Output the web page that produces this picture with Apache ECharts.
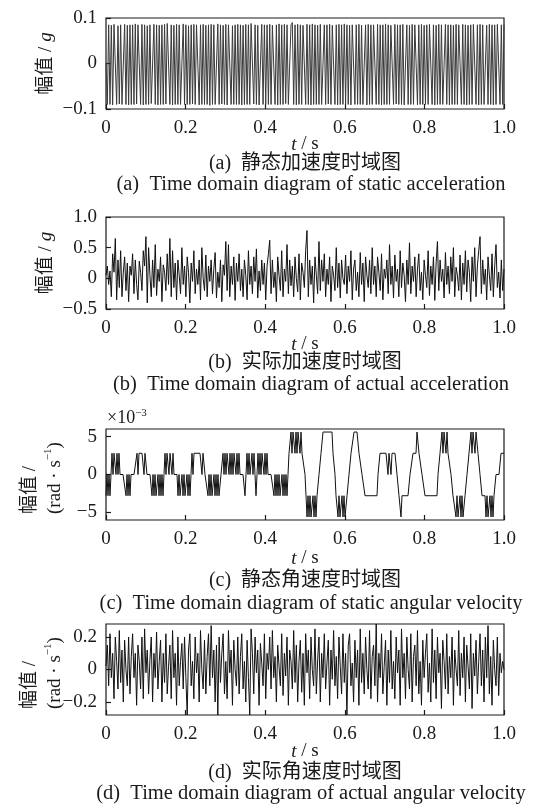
<!DOCTYPE html>
<html>
<head>
<meta charset="utf-8">
<script src="https://cdn.jsdelivr.net/npm/echarts@6/dist/echarts.min.js"></script>
<style>
  html, body { margin: 0; padding: 0; background: #fff; }
  #chart { width: 548px; height: 807px; }
</style>
</head>
<body>
<div id="chart"></div>
<script>
// (a) static acceleration, g
const accelStatic = [
  0,-0.09,0.085,-0.09,0.084,-0.091,0.086,0.085,-0.09,0.083,-0.089,0.085,-0.09,-0.09,0.086,-0.09,0.084,-0.091,0.085,-0.09,
  0.085,-0.09,0.087,-0.089,0.085,0.084,-0.09,0.086,-0.091,0.085,-0.09,0.083,-0.09,0.085,-0.088,-0.09,0.086,-0.09,0.085,-0.091,
  0.084,-0.09,0.085,-0.09,0.086,-0.089,0.088,0.085,-0.09,0.085,-0.091,0.084,-0.09,0.086,-0.09,0.085,-0.09,-0.091,0.087,-0.09,
  0.085,-0.09,0.083,-0.09,0.085,-0.089,0.086,-0.09,0.085,0.084,-0.091,0.085,-0.09,0.086,-0.09,0.084,-0.09,0.085,-0.092,0.086,
  -0.09,0.085,-0.09,-0.09,0.087,-0.09,0.085,-0.089,0.084,-0.09,0.086,-0.091,0.085,0.085,-0.09,0.083,-0.09,0.085,-0.09,0.086,
  -0.09,0.085,-0.091,0.084,-0.09,0.086,-0.09,0.085,-0.09,0.088,0.085,-0.089,0.085,-0.09,0.084,-0.091,-0.09,0.086,-0.09,0.085,
  -0.09,0.085,-0.09,0.086,-0.09,0.084,0.085,-0.09,0.085,-0.091,0.087,-0.09,0.085,-0.09,0.086,-0.088,0.085,-0.09,-0.09,0.085,
  0.09,-0.09,0.085,-0.091,0.086,-0.09,0.085,-0.09,0.084,0.085,-0.09,0.086,-0.09,0.085,-0.091,0.087,-0.09,0.085,-0.09,0.084,
  -0.09,0.086,-0.09,-0.091,0.085,-0.09,0.085,-0.089,0.086,-0.09,0.084,0.085,-0.09,0.085,-0.091,0.086,-0.09,0.085,-0.09,0.087,
  -0.09,0.085,-0.09,0.084,-0.091,0.085,0.086,-0.09,0.085,-0.09,0.086,-0.09,0.084,-0.09,-0.09,0.085,-0.091,0.086,-0.09,0.085,
  -0.09,0.085,0.084,-0.09,0.086,-0.09,0.085,-0.091,0.085,-0.09,0.087,-0.09,0.085,-0.09,0.084,0.085,-0.09,0.086,-0.089,0.085,
  -0.09,0.085,-0.09,0.086,-0.091,-0.09,0.085,-0.09,0.084,-0.09,0.086,-0.09,0.085,0.085,-0.091,0.085,-0.09,0.086,-0.09,0.084,
  -0.09,0.085,-0.09,0.086,0.085,-0.09,0.085,-0.091,0.084,-0.09,0.086,-0.09,0.085,-0.09,-0.09,0.086,-0.09,0.085,-0.091,0.085,
  -0.09,0.084,-0.09,0.086,-0.09,0.085,0.085,-0.09,0.086,-0.09,0.085,-0.091,0.084,-0.09,0.085,-0.09,0.086,0.085,-0.09,0.085,
  -0.091,0.086,-0.09,0.085,-0.09,-0.09,0.084,-0.09,0.086,-0.09,0.085,-0.091,0.085,-0.09,0.086,0.084,-0.09,0.085,-0.09,0.085
];

// (b) actual acceleration, g
const accelActual = [
  0.05,0.2,-0.1,0.12,-0.3,0.4,0.1,0.65,-0.35,0.3,-0.15,0.45,-0.3,0.1,0.35,-0.2,0.25,-0.38,0.2,0.05,
  0.4,-0.25,0.3,-0.1,-0.35,0.28,0.1,-0.2,0.45,0.2,0.68,-0.4,0.5,0.05,-0.3,0.3,-0.15,0.55,-0.28,0.15,
  -0.05,0.35,-0.38,0.22,0.1,-0.2,0.4,-0.1,0.65,-0.3,0.45,-0.15,0.25,-0.35,0.3,0.05,-0.25,0.5,-0.1,0.2,
  -0.3,0.35,0.1,-0.4,0.25,-0.05,0.45,-0.25,0.15,-0.1,0.3,-0.35,0.5,0.0,-0.2,0.38,-0.3,0.2,-0.05,0.3,
  -0.25,0.15,0.42,-0.32,0.1,-0.15,0.3,-0.38,0.22,0.05,0.6,-0.2,0.55,-0.3,0.2,-0.1,0.35,-0.36,0.25,-0.05,
  0.4,-0.2,0.15,-0.3,0.3,0.05,-0.35,0.45,-0.1,0.2,-0.25,0.35,-0.05,0.48,-0.32,0.12,-0.2,0.3,-0.1,0.25,
  -0.35,0.2,0.4,0.62,-0.25,0.3,-0.15,0.1,-0.38,0.35,0.05,-0.2,0.45,-0.3,0.15,-0.05,0.55,-0.25,0.3,-0.12,
  0.2,-0.3,0.35,0.0,-0.22,0.4,-0.35,0.25,0.1,-0.15,0.45,0.78,-0.3,0.3,-0.1,0.2,-0.4,0.35,0.05,-0.25,
  0.6,-0.2,0.3,-0.05,0.4,-0.3,0.15,-0.1,0.35,-0.38,0.2,0.05,-0.2,0.5,-0.15,0.25,-0.32,0.3,0.0,-0.1,
  0.38,-0.25,0.2,-0.05,0.45,-0.35,0.15,0.3,-0.2,0.1,-0.3,0.42,-0.1,0.25,-0.38,0.35,0.05,-0.15,0.3,-0.25,
  0.5,-0.1,0.2,-0.3,0.35,0.1,-0.2,0.4,-0.35,0.15,0.0,0.3,-0.25,0.55,-0.1,0.2,-0.32,0.38,-0.05,0.15,
  -0.3,0.45,-0.15,0.25,0.05,-0.38,0.3,-0.1,0.58,-0.25,0.2,-0.05,0.35,-0.3,0.15,0.4,-0.2,0.1,-0.35,0.3,
  0.05,-0.15,0.45,-0.28,0.2,-0.1,0.35,-0.36,0.25,0.6,-0.2,0.3,-0.05,0.15,-0.32,0.42,-0.1,0.2,-0.25,0.35,
  -0.05,0.5,-0.3,0.18,0.05,-0.2,0.38,-0.35,0.25,-0.1,0.45,-0.22,0.3,0.1,-0.38,0.35,-0.05,0.5,-0.3,0.2,
  0.45,0.68,-0.25,0.3,-0.1,0.15,-0.35,0.35,0.05,-0.2,0.4,-0.3,0.2,0.55,-0.15,0.1,-0.32,0.3,-0.2,0.15
];

// (c) static angular velocity, 1e-3 rad/s (quantised steps)
const gyroStatic = [
  -2.8,0,-2.8,0,-2.8,0,
  2.8,0,2.8,2.8,0,2.8,0,2.8,
  0,0,0,0,0,0,
  -2.8,0,
  -2.8,0,-2.8,0,0,0,
  0,0,0,
  2.8,0,2.8,2.8,2.8,2.8,2.8,0,2.8,2.8,0,0,
  0,0,0,
  -2.8,0,-2.8,0,-2.8,-2.8,0,-2.8,0,-2.8,0,-2.8,
  0,
  2.8,0,2.8,2.8,0,2.8,2.8,0,2.8,
  0,0,0,0,
  -2.8,0,-2.8,-2.8,0,-2.8,0,-2.8,-2.8,0,-2.8,0,-2.8,
  0,
  2.8,0,2.8,2.8,2.8,2.8,2.8,2.8,2.8,2.8,0,2.8,2.8,
  0,0,0,
  -2.8,0,-2.8,0,-2.8,-2.8,0,-2.8,0,-2.8,0,-2.8,-2.8,0,
  0,
  2.8,0,2.8,0,2.8,2.8,0,2.8,0,2.8,0,2.8,2.8,0,2.8,0,2.8,
  0,0,0,0,0,
  -2.8,0,
  2.8,0,2.8,0,0,2.8,0,2.8,
  0,
  -2.8,0,
  2.8,0,2.8,0,2.8,2.8,0,2.8,0,2.8,
  0,0,0,0,0,0,
  -2.8,0,-2.8,0,-2.8,0,-2.8,-2.8,0,-2.8,0,-2.8,0,-2.8,
  0,
  2.8,
  2.8,5.6,2.8,5.6,5.6,2.8,5.6,2.8,5.6,5.6,2.8,5.6,
  2.8,2.8,2.8,
  0,
  -2.8,
  -5.6,-2.8,-5.6,-2.8,-5.6,-5.6,-2.8,-5.6,-2.8,-5.6,
  -2.8,-2.8,0,0,2.8,2.8,
  5.6,5.6,5.6,5.6,5.6,5.6,5.6,5.6,5.6,5.6,
  2.8,2.8,0,-2.8,-2.8,
  -5.6,-2.8,-5.6,-5.6,-2.8,-5.6,-2.8,-5.6,-5.6,
  -2.8,-2.8,0,0,2.8,2.8,2.8,
  5.6,5.6,5.6,5.6,5.6,
  2.8,2.8,2.8,0,0,0,
  -2.8,-2.8,-2.8,-2.8,-2.8,-2.8,-2.8,-2.8,-2.8,-2.8,-2.8,-2.8,-2.8,
  0,0,
  2.8,2.8,2.8,2.8,2.8,2.8,2.8,2.8,0,2.8,2.8,0,2.8,2.8,2.8,2.8,2.8,
  0,0,
  -2.8,-2.8,-5.6,-2.8,-2.8,-2.8,-2.8,-2.8,-2.8,-2.8,-2.8,
  0,0,0,
  2.8,2.8,2.8,2.8,
  5.6,5.6,
  2.8,2.8,2.8,0,0,0,
  -2.8,-2.8,-2.8,-2.8,-2.8,-2.8,-2.8,-2.8,-2.8,-2.8,-2.8,-2.8,-2.8,
  0,0,2.8,2.8,
  5.6,2.8,5.6,5.6,2.8,5.6,2.8,2.8,
  2.8,0,0,
  -2.8,-2.8,-2.8,
  -5.6,-2.8,-5.6,-5.6,-2.8,-5.6,-2.8,-5.6,-5.6,
  -2.8,-2.8,0,0,2.8,2.8,
  5.6,2.8,5.6,5.6,2.8,5.6,5.6,2.8,
  2.8,0,0,-2.8,-2.8,
  -2.8,-2.8,
  -5.6,-2.8,-5.6,-5.6,-2.8,-5.6,-2.8,-5.6,
  -2.8,-2.8,0,0,0,0,0,2.8,2.8,2.8,2.8
];

// (d) actual angular velocity, rad/s
const gyroActual = [
  0.02,0.15,-0.1,0.22,-0.05,0.1,-0.18,0.2,0.05,-0.12,0.24,-0.08,0.12,-0.2,0.18,0.0,-0.1,0.2,-0.15,0.08,
  0.22,-0.05,0.1,-0.22,0.15,0.05,-0.12,0.2,-0.18,0.25,-0.02,0.12,-0.15,0.06,0.2,-0.2,0.1,-0.05,0.23,-0.12,
  0.05,0.18,-0.2,0.1,-0.08,0.22,-0.15,0.02,0.15,-0.18,0.24,-0.05,0.1,-0.22,0.2,-0.1,0.05,0.16,-0.12,0.2,
  -0.05,-0.28,0.12,0.22,-0.1,0.05,-0.18,0.2,-0.02,0.1,-0.2,0.24,0.0,-0.12,0.18,-0.15,0.08,0.22,-0.1,0.27,
  -0.05,0.12,-0.2,0.15,-0.28,0.2,-0.08,0.1,0.22,-0.15,0.05,-0.18,0.24,-0.02,0.12,-0.22,0.18,0.0,-0.1,0.2,
  -0.15,0.08,0.22,-0.12,0.05,-0.2,0.18,-0.05,-0.28,0.25,0.1,-0.15,0.2,-0.02,0.12,-0.22,0.16,0.04,-0.1,0.22,
  -0.18,0.1,0.0,0.2,-0.12,0.24,-0.05,0.08,-0.2,0.15,0.02,-0.1,0.22,-0.16,0.1,-0.04,0.2,-0.22,0.12,0.05,
  -0.12,0.24,-0.08,0.15,-0.2,0.05,0.18,-0.14,0.1,-0.22,0.22,-0.02,0.12,-0.18,0.2,0.0,-0.1,0.25,-0.15,0.06,
  0.2,-0.2,0.1,-0.05,0.22,-0.12,0.04,0.18,-0.22,0.12,-0.06,0.24,-0.1,0.08,-0.18,0.2,0.02,-0.15,0.22,-0.08,
  0.1,-0.28,0.15,0.22,-0.1,0.04,-0.2,0.18,-0.05,0.12,-0.22,0.25,-0.08,0.1,-0.15,0.2,0.0,-0.12,0.24,-0.18,
  0.08,0.15,-0.1,0.28,-0.2,0.1,-0.05,0.22,-0.15,0.02,0.18,-0.22,0.12,-0.08,0.24,-0.12,0.05,-0.18,0.2,-0.02,
  0.12,-0.22,0.25,-0.05,0.1,-0.18,0.2,0.0,-0.12,0.22,-0.2,0.08,0.15,-0.1,0.24,-0.15,0.05,-0.22,0.18,-0.05,
  0.1,0.22,-0.14,0.04,-0.2,0.25,-0.08,0.12,-0.18,0.2,-0.02,0.1,-0.24,0.18,0.05,-0.12,0.22,-0.15,0.08,-0.05,
  0.2,-0.22,0.12,0.0,-0.1,0.24,-0.16,0.1,-0.05,0.2,-0.2,0.15,0.02,-0.12,0.22,-0.24,0.1,-0.04,0.18,-0.15,
  0.05,0.22,-0.1,0.12,-0.2,0.2,-0.05,0.27,-0.15,0.08,-0.22,0.18,0.0,-0.1,0.2,-0.16,0.1,-0.02,0.05,0.0
];

const timeTicks = [0, 0.2, 0.4, 0.6, 0.8, 1.0];
const yTicksA = [-0.1, 0, 0.1];
const yTicksB = [-0.5, 0, 0.5, 1.0];
const yTicksC = [-5, 0, 5];
const yTicksD = [-0.2, 0, 0.2];

const captionsCN = ['(a)  静态加速度时域图', '(b)  实际加速度时域图', '(c)  静态角速度时域图', '(d)  实际角速度时域图'];
const captionsEN = [
  '(a)  Time domain diagram of static acceleration',
  '(b)  Time domain diagram of actual acceleration',
  '(c)  Time domain diagram of static angular velocity',
  '(d)  Time domain diagram of actual angular velocity'
];

const FONT = '"Liberation Serif", "Times New Roman", "Noto Sans CJK SC", serif';
const INK = '#1a1a1a';
const PLOT_LEFT = 106, PLOT_W = 398;
const panels = [
  { top: 18,  height: 91, values: accelStatic, yMin: -0.1, yMax: 0.1, ticks: yTicksA, color: '#3a3a3a', tGap: 26 },
  { top: 217, height: 92, values: accelActual, yMin: -0.5, yMax: 1.0, ticks: yTicksB, color: '#111', tGap: 26 },
  { top: 429, height: 91, values: gyroStatic,  yMin: -6,   yMax: 6,   ticks: yTicksC, color: '#111', tGap: 29 },
  { top: 624, height: 91, values: gyroActual,  yMin: -0.28, yMax: 0.28, ticks: yTicksD, color: '#111', tGap: 27 }
];

function toSeries(vals) {
  const n = vals.length;
  return vals.map((v, i) => [i / (n - 1), v]);
}
function fmtTick(v) {
  if (Math.abs(v) < 1e-9) return '0';
  const a = Math.abs(v);
  const s = (Number.isInteger(a) && a > 1) ? String(a) : a.toFixed(1);
  return (v < 0 ? '\u2212' : '') + s;
}

const grids = [], xAxes = [], yAxes = [], series = [];
panels.forEach((p, k) => {
  grids.push({ left: PLOT_LEFT, width: PLOT_W, top: p.top, height: p.height, show: true,
    borderColor: INK, borderWidth: 1.2, backgroundColor: 'transparent' });
  xAxes.push({
    type: 'value', gridIndex: k, min: 0, max: 1,
    axisLine: { show: false, onZero: false },
    axisTick: { show: true, inside: true, length: 5, lineStyle: { color: INK, width: 1.2 }, customValues: timeTicks },
    axisLabel: { show: true, customValues: timeTicks, margin: 10, color: INK, fontFamily: FONT, fontSize: 19,
      formatter: v => (v === 0 ? '0' : v.toFixed(1)) },
    splitLine: { show: false },
    name: '{i|t} / s', nameLocation: 'middle', nameGap: p.tGap, nameMoveOverlap: false,
    nameTextStyle: { color: INK, fontFamily: FONT, fontSize: 19,
      rich: { i: { fontStyle: 'italic', fontFamily: FONT, fontSize: 19, color: INK } } }
  });
  yAxes.push({
    type: 'value', gridIndex: k, min: p.yMin, max: p.yMax,
    axisLine: { show: false, onZero: false },
    axisTick: { show: true, inside: true, length: 5, lineStyle: { color: INK, width: 1.2 }, customValues: p.ticks },
    axisLabel: { show: true, customValues: p.ticks, margin: 9, color: INK, fontFamily: FONT, fontSize: 19,
      formatter: v => fmtTick(k === 2 ? Math.round(v) : v) },
    splitLine: { show: false },
    name: k < 2 ? '幅值 / {g|g}' : '', nameLocation: 'middle', nameRotate: 90, nameGap: 50, nameMoveOverlap: false,
    nameTextStyle: { color: INK, fontFamily: FONT, fontSize: 19,
      rich: { g: { fontStyle: 'italic', fontFamily: FONT, fontSize: 19, color: INK } } }
  });
  series.push({
    type: 'line', xAxisIndex: k, yAxisIndex: k, data: toSeries(p.values),
    showSymbol: false, symbol: 'none', lineStyle: { color: p.color, width: 1 }, silent: true
  });
});

const graphics = [];
const capRows = [[164, 185], [363, 385], [581, 604], [773, 794]];
capRows.forEach((r, k) => {
  graphics.push({ type: 'text', x: 305, y: r[0], silent: true,
    style: { text: captionsCN[k], fill: INK, fontFamily: FONT, fontSize: 20, textAlign: 'center', textVerticalAlign: 'middle' } });
  graphics.push({ type: 'text', x: 311, y: r[1], silent: true,
    style: { text: captionsEN[k], fill: INK, fontFamily: FONT, fontSize: 20.5, textAlign: 'center', textVerticalAlign: 'middle' } });
});
// two-line rotated names for the angular velocity panels
[[43, 514], [43, 709]].forEach(pos => {
  graphics.push({ type: 'text', x: pos[0], y: pos[1], rotation: Math.PI / 2, silent: true,
    style: { text: '{a|幅值 /}\n{a|(rad · s}{s|\u22121}{a|)}', fill: INK, textAlign: 'left', textVerticalAlign: 'middle',
      rich: { a: { fontFamily: FONT, fontSize: 19, lineHeight: 25, fill: INK },
              s: { fontFamily: FONT, fontSize: 11, lineHeight: 13, verticalAlign: 'top', fill: INK } } } });
});
graphics.push({ type: 'text', x: 107, y: 418, silent: true,
  style: { text: '{a|×10}{s|\u22123}', fill: INK, textAlign: 'left', textVerticalAlign: 'middle',
    rich: { a: { fontFamily: FONT, fontSize: 18, lineHeight: 20, fill: INK },
            s: { fontFamily: FONT, fontSize: 11, lineHeight: 12, verticalAlign: 'top', fill: INK } } } });

const chart = echarts.init(document.getElementById('chart'), null, { renderer: 'canvas' });
chart.setOption({
  animation: false,
  backgroundColor: '#fff',
  grid: grids, xAxis: xAxes, yAxis: yAxes, series: series,
  graphic: graphics
});
</script>
</body>
</html>
